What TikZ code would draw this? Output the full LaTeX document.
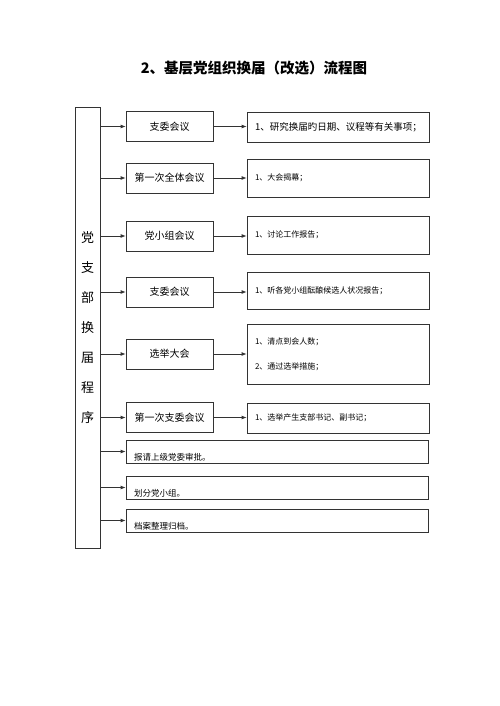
\documentclass[tikz,border=0pt]{standalone}
\usepackage{fontspec}
\setmainfont{Noto Sans CJK SC}
\usetikzlibrary{arrows.meta, positioning}
\definecolor{lineGray}{HTML}{333333}

\begin{document}
\begin{tikzpicture}[
			x=1pt, y=-1pt,
			font=\fontsize{10}{12}\selectfont,
			box/.style={draw=lineGray, line width=0.8pt, minimum width=87pt,
				minimum height=30pt, inner sep=0pt, align=center},
			note/.style={draw=lineGray, line width=0.8pt, text width=166pt,
				inner xsep=8pt, inner ysep=0pt, align=left, font=\fontsize{8}{25}\selectfont},
			wide/.style={draw=lineGray, line width=0.8pt, text width=286pt, inner xsep=8pt,
				inner ysep=0pt, text height=20pt, text depth=3pt, align=left,
				font=\fontsize{8.5}{10}\selectfont},
			arr/.style={-{Latex[length=5pt,width=4pt]}, line width=0.8pt, lineGray}
			]
			\useasboundingbox (0,0) rectangle (500,706);

			\node[font=\fontsize{14.5}{16}\selectfont\bfseries] (title) at (254,68) {2、基层党组织换届（改选）流程图};

			\node[draw=lineGray, line width=0.8pt, minimum width=25pt, minimum height=441pt,
				inner sep=0pt, align=center, font=\fontsize{13}{30}\selectfont] (side) at (87.5,327.5)
			{党\\支\\部\\换\\届\\程\\序};

			\node[box] (m1) at (169.5,126.5) {支委会议};
			\node[box] (m2) at (169.5,178) {第一次全体会议};
			\node[box] (m3) at (169.5,236) {党小组会议};
			\node[box] (m4) at (169.5,292) {支委会议};
			\node[box] (m5) at (169.5,354) {选举大会};
			\node[box] (m6) at (169.5,417.5) {第一次支委会议};

			\node[note, minimum height=30pt, font=\fontsize{9.5}{11}\selectfont] (r1) at (338,127) {1、研究换届旳日期、议程等有关事项；};
			\node[note, minimum height=38pt] (r2) at (338,178) {1、大会揭幕；};
			\node[note, minimum height=38pt] (r3) at (338,235) {1、讨论工作报告；};
			\node[note, minimum height=37pt] (r4) at (338,290.5) {1、听各党小组酝酿候选人状况报告；};
			\node[note, minimum height=60pt] (r5) at (338,354) {1、清点到会人数；\\2、通过选举措施；};
			\node[note, minimum height=30pt] (r6) at (338,418) {1、选举产生支部书记、副书记；};

			\node[wide] (w1) at (277,451.5) {报请上级党委审批。};
			\node[wide] (w2) at (277,487.5) {划分党小组。};
			\node[wide] (w3) at (277,520.5) {档案整理归档。};

			\foreach \m in {m1, m2, m3, m4, m5, m6, w1, w2, w3} {
				\draw[arr] (side.east |- \m.west) -- (\m.west);
			}
			\foreach \m/\r in {m1/r1, m2/r2, m3/r3, m4/r4, m5/r5, m6/r6} {
				\draw[arr] (\m.east) -- (\r.west |- \m.east);
			}

		\end{tikzpicture}
\end{document}
